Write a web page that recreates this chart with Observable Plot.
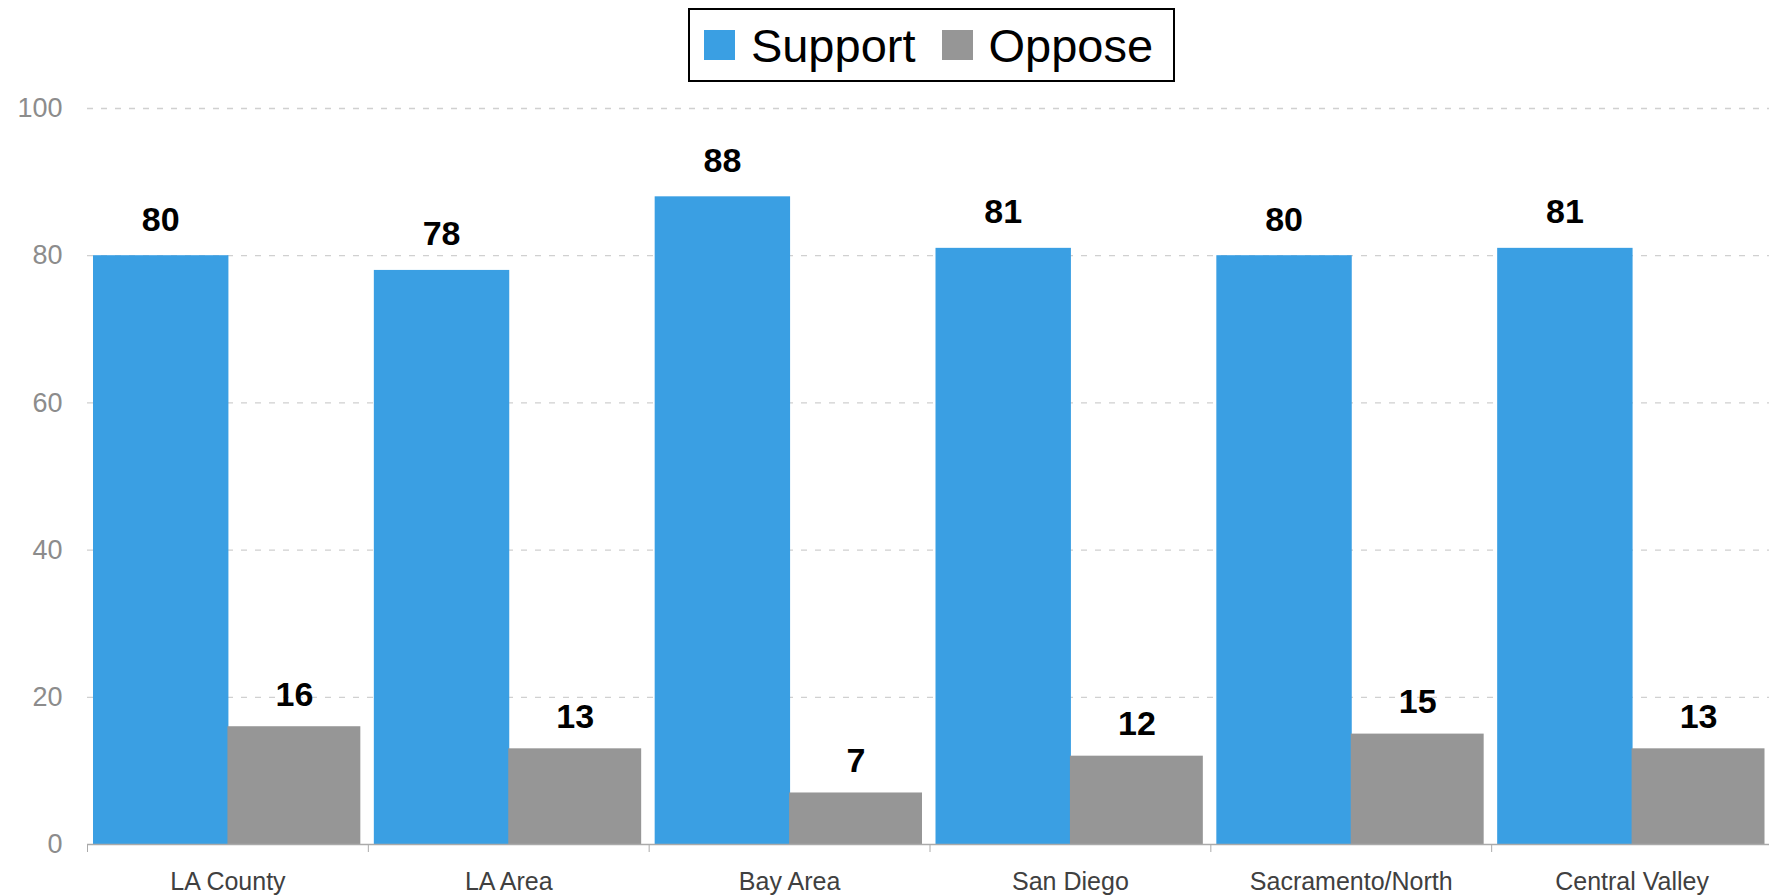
<!DOCTYPE html>
<html>
<head>
<meta charset="utf-8">
<script src="https://cdn.jsdelivr.net/npm/d3@7"></script>
<script src="https://cdn.jsdelivr.net/npm/@observablehq/plot@0.6"></script>
<style>
  html, body { margin: 0; padding: 0; background: #fff; overflow: hidden; width: 1769px; height: 896px; }
  body { font-family: "Liberation Sans", Arial, sans-serif; }
  #legend-row { height: 90px; width: 1685px; margin-left: 89px; display: flex; justify-content: center; align-items: flex-start; }
  .legend-box { margin-top: 8px; height: 70px; border: 2px solid #000; display: flex; align-items: center; padding: 0 20px 0 14px; box-sizing: content-box; }
  .legend-item { display: flex; align-items: center; }
  .legend-item + .legend-item { margin-left: 26px; }
  .swatch { width: 31px; height: 30px; margin-right: 16px; }
  .legend-label { font-size: 47px; color: #000; line-height: 1; }
  #chart svg { display: block; }
</style>
</head>
<body>
<div id="legend-row"><div class="legend-box" id="legend"></div></div>
<div id="chart"></div>
<script>
const regions = ["LA County", "LA Area", "Bay Area", "San Diego", "Sacramento/North", "Central Valley"];
const support = [80, 78, 88, 81, 80, 81];
const oppose = [16, 13, 7, 12, 15, 13];
const series = ["Support", "Oppose"];
const colors = ["#3a9fe3", "#969696"];
const yTicks = [0, 20, 40, 60, 80, 100];

// legend
const legend = document.getElementById("legend");
series.forEach((s, i) => {
  const item = document.createElement("div");
  item.className = "legend-item";
  const sw = document.createElement("div");
  sw.className = "swatch";
  sw.style.background = colors[i];
  const lab = document.createElement("span");
  lab.className = "legend-label";
  lab.textContent = s;
  item.appendChild(sw);
  item.appendChild(lab);
  legend.appendChild(item);
});

const W = 1772, H = 806, ML = 87, MR = 0, MT = 18, MB = 52;
const band = (W - ML - MR) / regions.length;
const data = regions.map((r, i) => ({region: r, support: support[i], oppose: oppose[i]}));

const chart = Plot.plot({
  width: W,
  height: H,
  marginLeft: ML,
  marginRight: MR,
  marginTop: MT,
  marginBottom: MB,
  style: {fontFamily: "'Liberation Sans', Arial, sans-serif", background: "white", maxWidth: "none", overflow: "visible"},
  x: {domain: regions, padding: 0, round: false, label: null},
  y: {domain: [0, 100], label: null},
  marks: [
    Plot.ruleY(yTicks.filter(d => d > 0), {stroke: "#d0d0d0", strokeDasharray: "6,8", strokeWidth: 1.3}),
    Plot.barY(data, {x: "region", y: "support", fill: colors[0], insetLeft: 6, insetRight: band / 2 - 1}),
    Plot.barY(data, {x: "region", y: "oppose", fill: colors[1], insetLeft: band / 2, insetRight: 7.5}),
    Plot.ruleY([0], {stroke: "#aaaaaa", strokeWidth: 1.5}),
    Plot.axisY({ticks: yTicks, tickSize: 0, tickPadding: 25, fontSize: 27, fill: "#8c8c8c", label: null}),
    Plot.axisX({tickSize: 0, tickPadding: 28, fontSize: 25, fill: "#404040", label: null}),
    Plot.axisX({tickSize: 8, text: null, dx: -band / 2, stroke: "#aaaaaa", label: null}),
    Plot.text(data, {x: "region", y: "support", text: d => String(d.support), dx: -band / 4 + 3, dy: -25, lineAnchor: "bottom", fontSize: 34, fontWeight: "bold", fill: "#000"}),
    Plot.text(data, {x: "region", y: "oppose", text: d => String(d.oppose), dx: band / 4 - 3.75, dy: -21, lineAnchor: "bottom", fontSize: 34, fontWeight: "bold", fill: "#000"})
  ]
});
document.getElementById("chart").appendChild(chart);
</script>
</body>
</html>
